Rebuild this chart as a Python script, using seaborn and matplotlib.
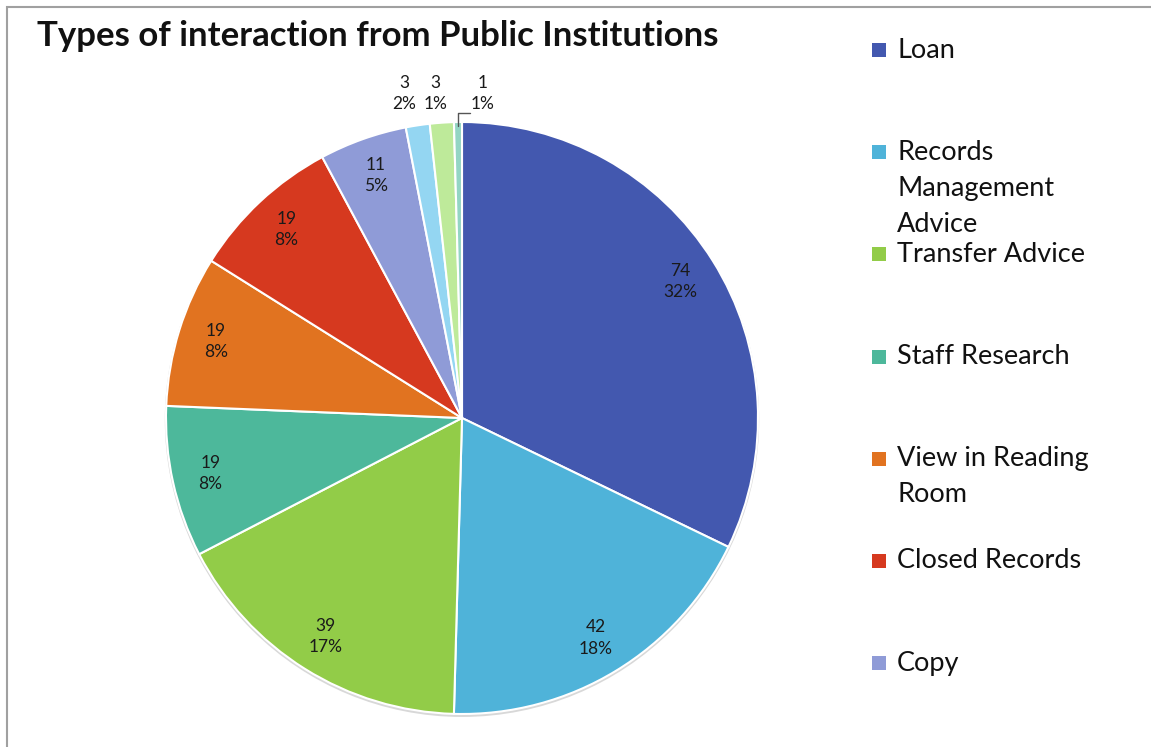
import numpy as np
import matplotlib
matplotlib.use("Agg")
import matplotlib.pyplot as plt
import seaborn as sns
from matplotlib.patches import Rectangle, Circle

# ---- data ----
categories = ["Loan", "Records Management Advice", "Transfer Advice", "Staff Research",
              "View in Reading Room", "Closed Records", "Copy", "Other A", "Other B", "Other C"]
values = [74, 42, 39, 19, 19, 19, 11, 3, 3, 1]
pct_labels = ["32%", "18%", "17%", "8%", "8%", "8%", "5%", "2%", "1%", "1%"]
legend_labels = ["Loan", "Records\nManagement\nAdvice", "Transfer Advice", "Staff Research",
                 "View in Reading\nRoom", "Closed Records", "Copy"]
colors = ["#4358AF", "#4FB3D9", "#92CC48", "#4DB89B", "#E17320", "#D6391F",
          "#8F9BD7", "#94D6F2", "#BEEA9A", "#93D5C3"]
title = "Types of interaction from Public Institutions"

sns.set_theme(style="white")
plt.rcParams["font.family"] = ["Lato", "DejaVu Sans"]
palette = sns.color_palette(colors)

W, H = 1151, 747
fig = plt.figure(figsize=(W / 100, H / 100), dpi=100)
fig.patch.set_facecolor("white")

cx, cy, R = 462, 418, 296
ax = fig.add_axes([(cx - R) / W, (H - cy - R) / H, 2 * R / W, 2 * R / H])

# subtle shadow
ax.add_patch(Circle((0, -0.006), 1.004, facecolor="#C8C8C8", edgecolor="none",
                    alpha=0.7, zorder=0, clip_on=False))

wedges, _ = ax.pie(values, colors=palette, startangle=90, counterclock=False,
                   wedgeprops=dict(edgecolor="white", linewidth=1.5, zorder=1))
ax.set_xlim(-1, 1)
ax.set_ylim(-1, 1)
ax.set_aspect("equal")
ax.axis("off")

# inner labels
for i, w in enumerate(wedges[:7]):
    th = np.deg2rad((w.theta1 + w.theta2) / 2)
    r = 0.87
    ax.text(r * np.cos(th), r * np.sin(th), f"{values[i]}\n{pct_labels[i]}",
            ha="center", va="center", fontsize=12.5, color="#1a1a1a", linespacing=1.4,
            zorder=3)

# outer labels for the small slices
outer_x = [-0.196, -0.091, 0.071]
for j, i in enumerate(range(7, 10)):
    ax.text(outer_x[j], 1.095, f"{values[i]}\n{pct_labels[i]}",
            ha="center", va="center", fontsize=12.5, color="#1a1a1a", linespacing=1.4)

# leader line for the smallest slice
w = wedges[9]
th = np.deg2rad((w.theta1 + w.theta2) / 2)
x0 = np.cos(th)
ax.plot([x0, x0, 0.027], [0.985, 1.03, 1.03], color="#555555", lw=1, clip_on=False)

# title
fig.text(37 / W, 1 - 36 / H, title, fontsize=25, fontweight="bold", ha="left", va="center",
         color="#111111")

# legend (fixed-slot entries like the original)
leg_y0, leg_step = 50, 102.2
for i, lab in enumerate(legend_labels):
    ytop = leg_y0 + i * leg_step
    fig.patches.append(Rectangle((872 / W, 1 - (ytop + 7) / H), 14 / W, 14 / H,
                                 transform=fig.transFigure, facecolor=palette[i],
                                 edgecolor="none"))
    for k, ln in enumerate(lab.split("\n")):
        fig.text(897 / W, 1 - (ytop + k * 36) / H, ln, fontsize=19.5, ha="left",
                 va="center", color="#111111")

# chart frame
fig.patches.append(Rectangle((7 / W, -0.1), 1.2, 1.1 - 7 / H, transform=fig.transFigure,
                             facecolor="none", edgecolor="#A0A0A0", linewidth=1.5))

fig.savefig("out.png", dpi=100)
